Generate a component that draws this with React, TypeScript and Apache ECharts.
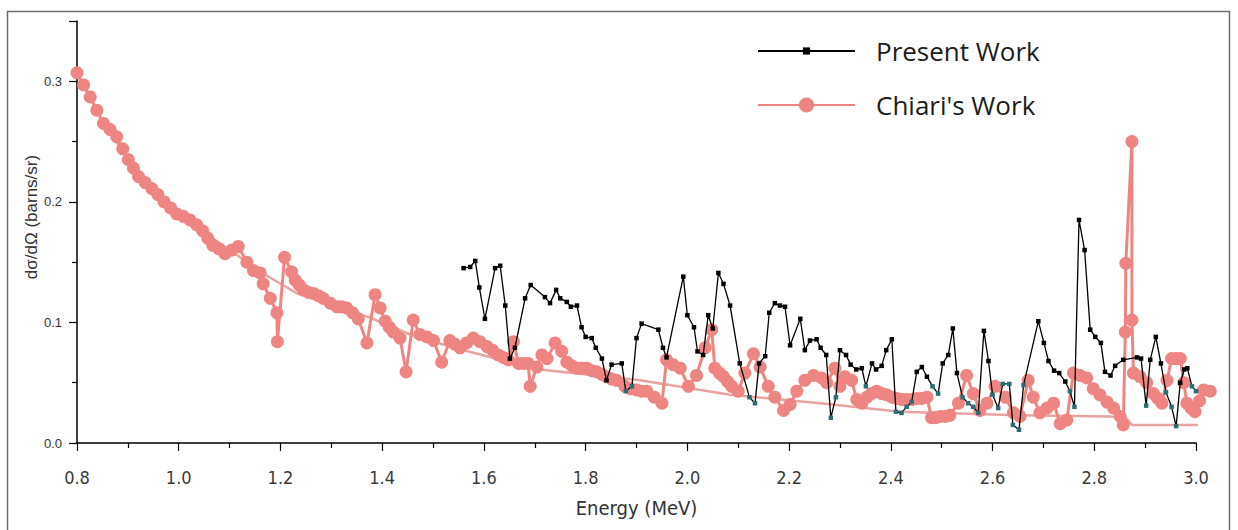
import React, { useEffect, useRef } from "react";
import * as echarts from "echarts";

// Present Work (black squares)
const presentX = [
  1.560, 1.573, 1.583, 1.591, 1.602, 1.622, 1.632, 1.642, 1.651, 1.661, 1.681, 1.692, 1.720, 1.730, 1.742,
  1.750, 1.763, 1.771, 1.783, 1.792, 1.800, 1.812, 1.820, 1.832, 1.841, 1.851, 1.871, 1.879, 1.891, 1.900,
  1.910, 1.943, 1.952, 1.959, 1.992, 2.000, 2.013, 2.020, 2.031, 2.041, 2.050, 2.061, 2.071, 2.084, 2.103,
  2.122, 2.133, 2.141, 2.153, 2.161, 2.172, 2.182, 2.192, 2.202, 2.222, 2.231, 2.241, 2.254, 2.262, 2.273,
  2.282, 2.292, 2.300, 2.312, 2.321, 2.332, 2.343, 2.351, 2.363, 2.371, 2.382, 2.391, 2.402, 2.410, 2.421,
  2.431, 2.441, 2.451, 2.461, 2.471, 2.482, 2.493, 2.502, 2.513, 2.522, 2.530, 2.541, 2.552, 2.562, 2.572,
  2.583, 2.592, 2.600, 2.611, 2.620, 2.633, 2.640, 2.652, 2.661, 2.690, 2.701, 2.710, 2.721, 2.731, 2.743,
  2.752, 2.761, 2.770, 2.781, 2.792, 2.802, 2.813, 2.821, 2.832, 2.841, 2.857, 2.884, 2.892, 2.902, 2.910,
  2.921, 2.931, 2.941, 2.952, 2.961, 2.969, 2.977, 2.983, 2.992, 3.000,
];
const presentY = [
  0.145, 0.146, 0.151, 0.129, 0.103, 0.145, 0.147, 0.114, 0.070, 0.079, 0.120, 0.131, 0.121, 0.116, 0.127,
  0.120, 0.117, 0.113, 0.114, 0.096, 0.088, 0.087, 0.079, 0.070, 0.052, 0.065, 0.066, 0.043, 0.047, 0.087,
  0.099, 0.094, 0.079, 0.071, 0.138, 0.106, 0.096, 0.076, 0.073, 0.106, 0.095, 0.141, 0.132, 0.114, 0.066,
  0.038, 0.033, 0.066, 0.072, 0.108, 0.116, 0.114, 0.113, 0.081, 0.103, 0.077, 0.085, 0.086, 0.079, 0.073,
  0.021, 0.038, 0.077, 0.073, 0.065, 0.061, 0.062, 0.047, 0.066, 0.061, 0.064, 0.077, 0.086, 0.026, 0.025,
  0.030, 0.034, 0.059, 0.063, 0.055, 0.047, 0.041, 0.066, 0.073, 0.095, 0.058, 0.038, 0.033, 0.030, 0.025,
  0.093, 0.068, 0.040, 0.029, 0.049, 0.049, 0.015, 0.011, 0.048, 0.101, 0.083, 0.068, 0.060, 0.058, 0.051,
  0.043, 0.030, 0.185, 0.160, 0.094, 0.088, 0.083, 0.059, 0.056, 0.064, 0.069, 0.071, 0.070, 0.031, 0.069,
  0.088, 0.066, 0.042, 0.030, 0.014, 0.050, 0.061, 0.062, 0.047, 0.043,
];

// Chiari's Work (pink circles)
const chiariX = [
  0.800, 0.813, 0.826, 0.839, 0.852, 0.865, 0.878, 0.890, 0.901, 0.911, 0.921, 0.934, 0.947, 0.959, 0.971,
  0.984, 0.996, 1.009, 1.022, 1.035, 1.047, 1.057, 1.067, 1.079, 1.091, 1.104, 1.117, 1.134, 1.147, 1.160,
  1.166, 1.180, 1.193, 1.194, 1.208, 1.222, 1.229, 1.237, 1.245, 1.255, 1.265, 1.275, 1.284, 1.298, 1.311,
  1.320, 1.330, 1.342, 1.353, 1.370, 1.386, 1.396, 1.406, 1.414, 1.422, 1.435, 1.447, 1.461, 1.474, 1.488,
  1.501, 1.517, 1.533, 1.543, 1.553, 1.566, 1.579, 1.592, 1.606, 1.617, 1.628, 1.638, 1.648, 1.658, 1.668,
  1.678, 1.687, 1.691, 1.704, 1.714, 1.724, 1.740, 1.753, 1.763, 1.773, 1.783, 1.792, 1.802, 1.812, 1.822,
  1.832, 1.841, 1.851, 1.861, 1.877, 1.888, 1.900, 1.910, 1.920, 1.935, 1.950, 1.959, 1.972, 1.986, 2.002,
  2.018, 2.035, 2.048, 2.054, 2.063, 2.071, 2.079, 2.087, 2.100, 2.113, 2.130, 2.143, 2.159, 2.172, 2.189,
  2.202, 2.215, 2.231, 2.248, 2.264, 2.274, 2.290, 2.300, 2.310, 2.323, 2.333, 2.343, 2.353, 2.362, 2.372,
  2.382, 2.392, 2.402, 2.412, 2.422, 2.431, 2.441, 2.451, 2.461, 2.471, 2.480, 2.488, 2.497, 2.507, 2.516,
  2.533, 2.549, 2.562, 2.575, 2.589, 2.605, 2.625, 2.641, 2.654, 2.670, 2.680, 2.693, 2.707, 2.720, 2.733,
  2.746, 2.759, 2.772, 2.785, 2.798, 2.811, 2.825, 2.838, 2.851, 2.857, 2.861, 2.862, 2.874, 2.874, 2.877,
  2.890, 2.903, 2.916, 2.925, 2.933, 2.943, 2.952, 2.961, 2.969, 2.976, 2.982, 2.990, 2.998, 3.007, 3.015,
  3.028,
];
const chiariY = [
  0.307, 0.297, 0.287, 0.276, 0.265, 0.260, 0.254, 0.244, 0.235, 0.228, 0.221, 0.216, 0.211, 0.206, 0.200,
  0.195, 0.190, 0.188, 0.185, 0.181, 0.176, 0.170, 0.164, 0.161, 0.157, 0.160, 0.163, 0.150, 0.143, 0.141,
  0.132, 0.120, 0.108, 0.084, 0.154, 0.142, 0.135, 0.131, 0.127, 0.125, 0.124, 0.122, 0.120, 0.116, 0.113,
  0.113, 0.112, 0.108, 0.103, 0.083, 0.123, 0.112, 0.101, 0.096, 0.092, 0.087, 0.059, 0.102, 0.090, 0.088,
  0.085, 0.067, 0.085, 0.082, 0.079, 0.083, 0.087, 0.084, 0.080, 0.077, 0.073, 0.071, 0.069, 0.084, 0.066,
  0.066, 0.066, 0.047, 0.063, 0.073, 0.070, 0.083, 0.076, 0.067, 0.064, 0.062, 0.062, 0.062, 0.060, 0.059,
  0.057, 0.055, 0.053, 0.052, 0.047, 0.045, 0.044, 0.043, 0.043, 0.038, 0.033, 0.069, 0.065, 0.062, 0.047,
  0.056, 0.079, 0.094, 0.062, 0.058, 0.055, 0.051, 0.047, 0.043, 0.058, 0.074, 0.063, 0.047, 0.038, 0.027,
  0.032, 0.043, 0.052, 0.056, 0.054, 0.050, 0.062, 0.047, 0.055, 0.052, 0.036, 0.033, 0.038, 0.041, 0.043,
  0.041, 0.040, 0.038, 0.037, 0.036, 0.036, 0.036, 0.037, 0.037, 0.038, 0.021, 0.021, 0.022, 0.022, 0.023,
  0.033, 0.056, 0.041, 0.027, 0.033, 0.047, 0.038, 0.025, 0.022, 0.052, 0.038, 0.025, 0.029, 0.033, 0.016,
  0.019, 0.058, 0.056, 0.054, 0.045, 0.040, 0.034, 0.029, 0.022, 0.015, 0.092, 0.149, 0.250, 0.102, 0.058,
  0.055, 0.050, 0.041, 0.037, 0.033, 0.052, 0.070, 0.070, 0.070, 0.050, 0.033, 0.029, 0.026, 0.035, 0.044,
  0.043,
];

// Chiari's smooth reference curve (thin pink line)
const fitX = [
  0.800, 0.851, 0.900, 0.946, 0.997, 1.048, 1.101, 1.160, 1.233, 1.307, 1.376, 1.455, 1.533, 1.632, 1.710,
  1.907, 2.084, 2.261, 2.418, 2.654, 2.831, 2.862, 2.874, 3.028,
];
const fitY = [
  0.307, 0.266, 0.236, 0.211, 0.191, 0.175, 0.160, 0.142, 0.124, 0.114, 0.104, 0.090, 0.080, 0.069, 0.061,
  0.052, 0.040, 0.033, 0.026, 0.023, 0.022, 0.021, 0.015, 0.015,
];

const xMin = 0.8;
const xMax = 3.0;
const xInterval = 0.2;
const yMin = 0;
const yMax = 0.35;
const yInterval = 0.1;
const yTitle = "dσ/dΩ (barns/sr)";
const xTitle = "Energy (MeV)";

const PINK = "#ef8583";
const PINK_FIT = "#e9a3a1";
const TEAL = "#2c6c74";

export default function App() {
  const ref = useRef<HTMLDivElement>(null);

  useEffect(() => {
    if (!ref.current) return;
    const chart = echarts.init(ref.current, null, { renderer: "svg" });

    const presentData = presentX.map((x, i) => ({
      value: [x, presentY[i]],
      itemStyle: presentY[i] < 0.05 ? { color: TEAL } : undefined,
    }));
    const chiariData = chiariX.map((x, i) => [x, chiariY[i]]);
    const fitData = fitX.map((x, i) => [x, fitY[i]]);

    const narrow = "Liberation Sans Narrow, Arial Narrow, DejaVu Sans Condensed, Liberation Sans, sans-serif";
    const arial = "Liberation Sans, Arial, sans-serif";
    const legendFont = "Open Sans, Noto Sans, sans-serif";

    chart.setOption({
      animation: false,
      backgroundColor: "#ffffff",
      graphic: [
        {
          type: "rect",
          silent: true,
          z: -10,
          shape: { x: 7.5, y: 11.5, width: 1222, height: 600 },
          style: { fill: "none", stroke: "#6e6e6e", lineWidth: 1.5 },
        },
        {
          type: "text",
          silent: true,
          x: 31,
          y: 217,
          rotation: Math.PI / 2,
          style: {
            text: yTitle,
            fontFamily: arial,
            fontSize: 17,
            fill: "#333",
            align: "center",
            verticalAlign: "middle",
          },
        },
      ],
      grid: { left: 77, right: 42, top: 21, bottom: 87, containLabel: false },
      legend: [
        {
          data: ["Present Work"],
          left: 757,
          top: 36,
          padding: 0,
          itemWidth: 97,
          itemHeight: 9,
          textStyle: {
            fontFamily: legendFont,
            fontSize: 26,
            color: "#1c1c1c",
            lineHeight: 30,
            padding: [0, 0, 0, 16],
          },
        },
        {
          data: ["Chiari's Work"],
          left: 757,
          top: 87,
          padding: 0,
          itemWidth: 97,
          itemHeight: 19,
          textStyle: {
            fontFamily: legendFont,
            fontSize: 26,
            color: "#1c1c1c",
            lineHeight: 30,
            padding: [6, 0, 0, 16],
          },
        },
      ],
      xAxis: {
        type: "value",
        min: xMin,
        max: xMax,
        interval: xInterval,
        name: xTitle,
        nameLocation: "middle",
        nameGap: 55,
        nameTextStyle: { fontFamily: narrow, fontSize: 20, color: "#333" },
        axisLine: { show: true, onZero: false, lineStyle: { color: "#000", width: 1.5 } },
        axisTick: { show: true, length: 8, lineStyle: { color: "#000", width: 1.2 } },
        minorTick: { show: true, splitNumber: 2, length: 5, lineStyle: { color: "#000", width: 1.2 } },
        splitLine: { show: false },
        axisLabel: {
          margin: 25,
          fontFamily: narrow,
          fontSize: 18,
          color: "#3a3a3a",
          formatter: (v: number) => v.toFixed(1),
        },
      },
      yAxis: {
        type: "value",
        min: yMin,
        max: yMax,
        interval: yInterval,
        axisLine: { show: true, onZero: false, lineStyle: { color: "#000", width: 1.5 } },
        axisTick: { show: true, length: 8, lineStyle: { color: "#000", width: 1.2 } },
        minorTick: { show: true, splitNumber: 2, length: 5, lineStyle: { color: "#000", width: 1.2 } },
        splitLine: { show: false },
        axisLabel: {
          margin: 15,
          fontFamily: arial,
          fontSize: 13,
          color: "#333",
          showMaxLabel: false,
          formatter: (v: number) => (Math.abs(v - yMax) < 1e-9 ? "" : v.toFixed(1)),
        },
      },
      series: [
        {
          name: "Chiari fit",
          type: "line",
          data: fitData,
          showSymbol: false,
          symbol: "none",
          clip: false,
          lineStyle: { color: PINK_FIT, width: 2.5 },
          itemStyle: { color: PINK_FIT },
          z: 1,
        },
        {
          name: "Chiari's Work",
          type: "line",
          data: chiariData,
          symbol: "circle",
          symbolSize: 13,
          showAllSymbol: true,
          clip: false,
          lineStyle: { color: PINK, width: 3 },
          itemStyle: { color: PINK },
          z: 2,
        },
        {
          name: "Present Work",
          type: "line",
          data: presentData,
          symbol: "rect",
          symbolSize: 4.5,
          showAllSymbol: true,
          clip: false,
          lineStyle: { color: "#000", width: 1.3 },
          itemStyle: { color: "#000" },
          z: 3,
        },
      ],
    });

    return () => chart.dispose();
  }, []);

  return (
    <div
      ref={ref}
      style={{ position: "fixed", left: 0, top: 0, width: 1238, height: 530, background: "#fff" }}
    />
  );
}
